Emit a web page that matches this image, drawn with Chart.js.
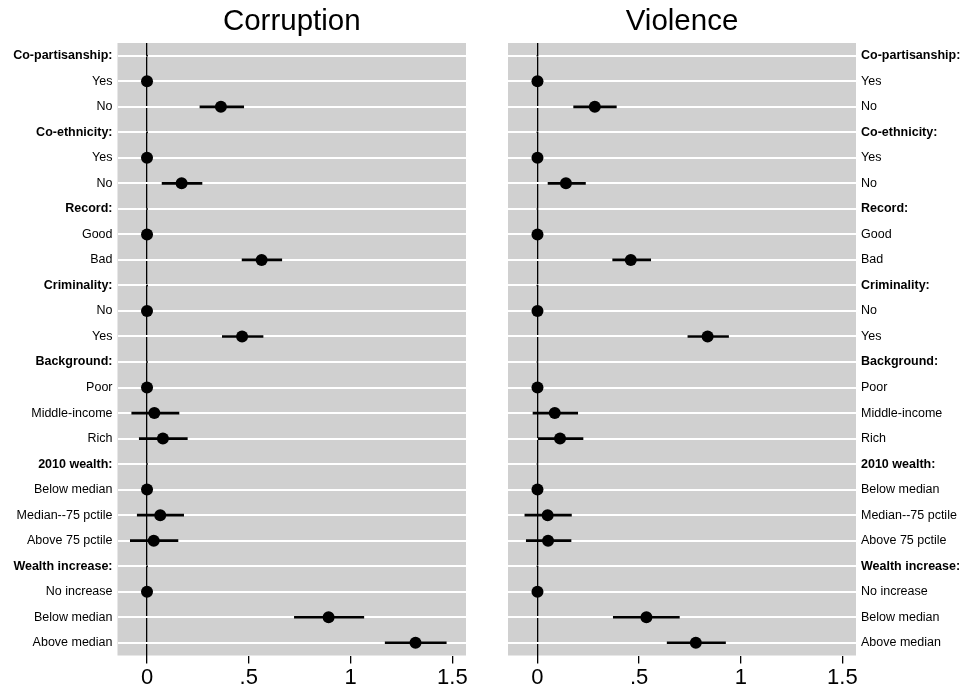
<!DOCTYPE html>
<html>
<head>
<meta charset="utf-8">
<script src="https://cdn.jsdelivr.net/npm/chart.js@4/dist/chart.umd.min.js"></script>
<style>
  html, body { margin: 0; padding: 0; background: #fff; }
  #wrap { position: relative; width: 967px; height: 692px; }
  canvas { position: absolute; top: 0; }
</style>
</head>
<body>
<div id="wrap">
  <canvas id="left" width="487" height="692" style="left:0px"></canvas>
  <canvas id="right" width="480" height="692" style="left:487px"></canvas>
</div>
<script>
const categories = ['Co-partisanship:','Yes','No','Co-ethnicity:','Yes','No','Record:','Good','Bad',
  'Criminality:','No','Yes','Background:','Poor','Middle-income','Rich','2010 wealth:','Below median',
  'Median--75 pctile','Above 75 pctile','Wealth increase:','No increase','Below median','Above median'];
const isHeader = [1,0,0,1,0,0,1,0,0,1,0,0,1,0,0,0,1,0,0,0,1,0,0,0];

const corruptionEst = [0,0,0.363,0,0,0.170,0,0,0.563,0,0,0.467,0,0,0.036,0.078,0,0,0.065,0.033,0,0,0.892,1.319];
const corruptionLo  = [null,null,0.260,null,null,0.074,null,null,0.467,null,null,0.370,null,null,-0.075,-0.038,null,null,-0.048,-0.082,null,null,0.724,1.170];
const corruptionHi  = [null,null,0.475,null,null,0.270,null,null,0.662,null,null,0.570,null,null,0.157,0.198,null,null,0.180,0.152,null,null,1.065,1.470];

const violenceEst = [0,0,0.282,0,0,0.140,0,0,0.459,0,0,0.837,0,0,0.085,0.111,0,0,0.050,0.052,0,0,0.536,0.779];
const violenceLo  = [null,null,0.178,null,null,0.052,null,null,0.370,null,null,0.740,null,null,-0.022,0.000,null,null,-0.062,-0.055,null,null,0.373,0.638];
const violenceHi  = [null,null,0.388,null,null,0.236,null,null,0.557,null,null,0.940,null,null,0.198,0.224,null,null,0.167,0.165,null,null,0.698,0.925];

const xTickValues = [0, 0.5, 1, 1.5];
const xTickLabels = ['0', '.5', '1', '1.5'];
const panelTitles = ['Corruption', 'Violence'];

const FONT = "'Liberation Sans', Arial, Helvetica, sans-serif";

const plotBg = {
  id: 'plotBg',
  beforeDraw(chart) {
    const a = chart.chartArea, c = chart.ctx;
    c.save();
    c.fillStyle = '#d0d0d0';
    c.fillRect(a.left, a.top, a.right - a.left, a.bottom - a.top);
    c.restore();
  }
};

function makePanel(canvasId, title, est, lo, hi, side) {
  const ranges = lo.map((l, i) => l === null ? null : [l, hi[i]]);
  const yAxisWidth = side === 'left' ? 117.5 : 111;
  return new Chart(document.getElementById(canvasId), {
    type: 'bar',
    data: {
      labels: categories,
      datasets: [
        {
          type: 'bar',
          indexAxis: 'y',
          data: ranges,
          backgroundColor: '#000',
          borderWidth: 0,
          barThickness: 2,
          order: 2
        },
        {
          type: 'line',
          indexAxis: 'y',
          data: est,
          showLine: false,
          pointRadius: ctx => isHeader[ctx.dataIndex] ? 1 : 6,
          pointBackgroundColor: '#000',
          pointBorderColor: '#000',
          pointBorderWidth: 0,
          order: 1
        }
      ]
    },
    options: {
      indexAxis: 'y',
      responsive: false,
      animation: false,
      layout: { padding: side === 'left' ? { left: 0, right: 21, top: 0, bottom: 0 } : { left: 21, right: 0, top: 0, bottom: 0 } },
      plugins: {
        legend: { display: false },
        tooltip: { enabled: false },
        title: {
          display: true,
          text: title,
          fullSize: false,
          color: '#000',
          font: { family: FONT, size: 29.5, weight: 'normal', lineHeight: 1.2 },
          padding: { top: 4.3, bottom: 3.3 }
        }
      },
      scales: {
        x: {
          type: 'linear',
          min: -0.145,
          max: 1.567,
          z: 1,
          border: { display: false },
          afterBuildTicks: scale => { scale.ticks = xTickValues.map(v => ({ value: v })); },
          afterFit: scale => { scale.height = 36.5; },
          grid: {
            color: ctx => (ctx.tick && ctx.tick.value === 0) ? '#000' : 'rgba(0,0,0,0)',
            lineWidth: 1.3,
            tickColor: '#000',
            tickLength: 8,
            drawTicks: true
          },
          ticks: {
            color: '#000',
            padding: 1,
            font: { family: FONT, size: 22 },
            maxRotation: 0,
            autoSkip: false,
            callback: v => xTickLabels[xTickValues.indexOf(v)]
          }
        },
        y: {
          type: 'category',
          position: side,
          offset: true,
          border: { display: false },
          afterFit: scale => { scale.width = yAxisWidth; },
          grid: {
            offset: false,
            color: '#ffffff',
            lineWidth: 2,
            drawTicks: false
          },
          ticks: {
            color: '#000',
            padding: 5,
            autoSkip: false,
            font: ctx => ({ family: FONT, size: 12.5, weight: isHeader[ctx.index] ? 'bold' : 'normal' })
          }
        }
      }
    },
    plugins: [plotBg]
  });
}

makePanel('left', panelTitles[0], corruptionEst, corruptionLo, corruptionHi, 'left');
makePanel('right', panelTitles[1], violenceEst, violenceLo, violenceHi, 'right');
</script>
</body>
</html>
